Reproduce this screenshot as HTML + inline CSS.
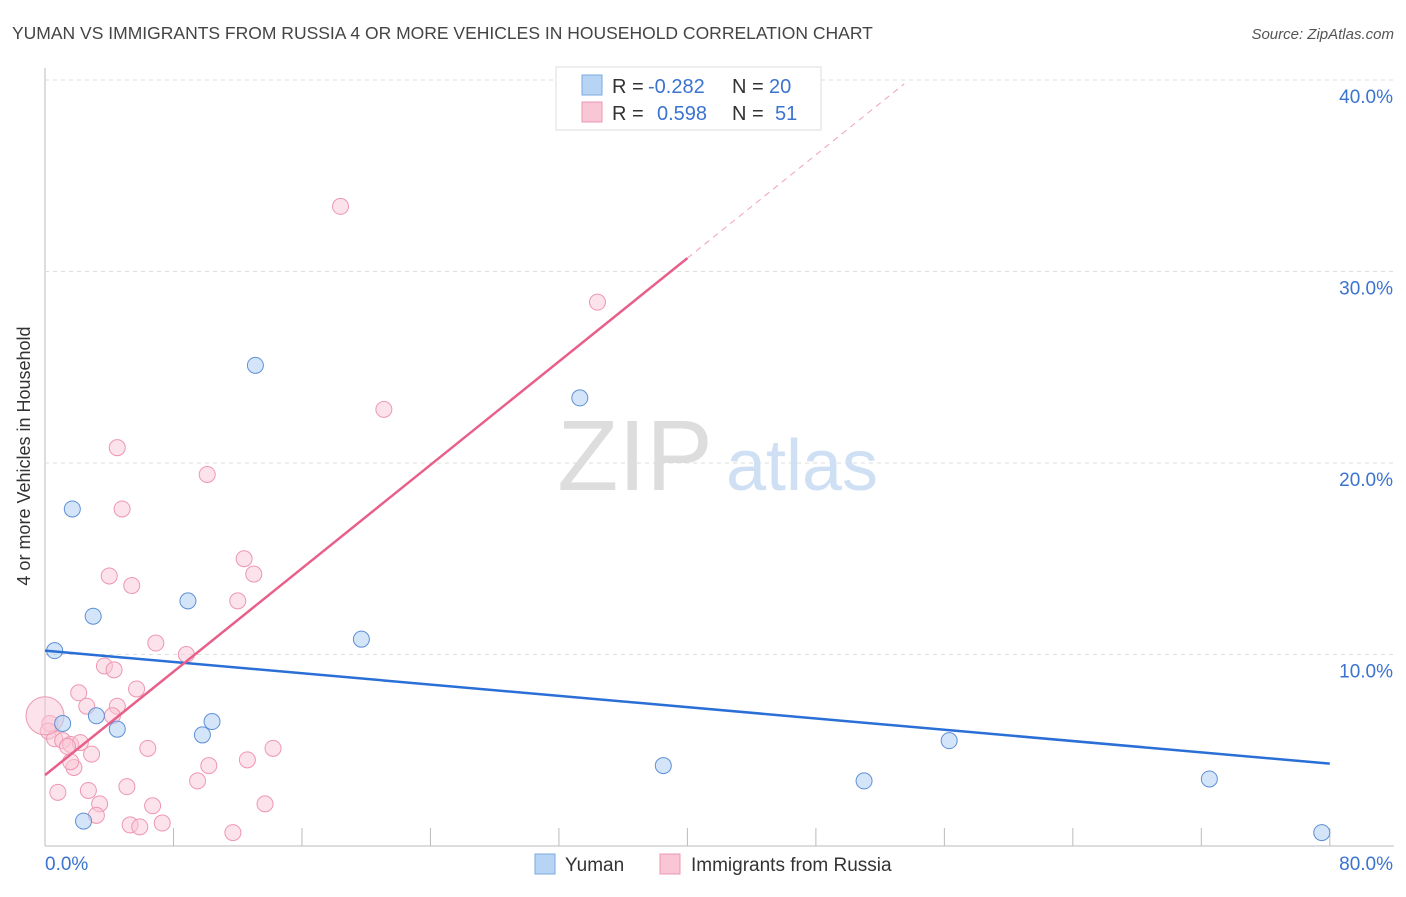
<!DOCTYPE html>
<html><head><meta charset="utf-8"><style>
body{margin:0;background:#fff;font-family:"Liberation Sans",sans-serif;}
svg text{font-family:"Liberation Sans",sans-serif;}
</style></head><body>
<svg id="chart" width="1406" height="892" viewBox="0 0 1406 892" xmlns="http://www.w3.org/2000/svg">
<text x="12" y="39" font-size="17.5" fill="#444">YUMAN VS IMMIGRANTS FROM RUSSIA 4 OR MORE VEHICLES IN HOUSEHOLD CORRELATION CHART</text>
<text x="1394" y="39" font-size="15" fill="#555" font-style="italic" text-anchor="end">Source: ZipAtlas.com</text>
<text x="30" y="456" font-size="18" fill="#333" text-anchor="middle" transform="rotate(-90 30 456)">4 or more Vehicles in Household</text>
<g id="grid"></g>
<g><text x="635" y="490" font-size="100" fill="#ddd" font-family="Liberation Serif" text-anchor="middle">ZIP</text><text x="802" y="490" font-size="72" fill="#cfe0f5" text-anchor="middle">atlas</text></g>
<g id="marks"></g>
<g>
<rect x="556" y="67" width="265" height="63" fill="#fff" stroke="#ddd"/>
<rect x="582" y="75" width="20" height="20" fill="#b8d4f5" stroke="#7aa8e0"/>
<rect x="582" y="102" width="20" height="20" fill="#f9c6d6" stroke="#ee97b2"/>
<text x="612" y="93" font-size="20" fill="#333">R =</text>
<text x="648" y="93" font-size="20" fill="#3b73d0">-0.282</text>
<text x="732" y="93" font-size="20" fill="#333">N =</text>
<text x="769" y="93" font-size="20" fill="#3b73d0">20</text>
<text x="612" y="120" font-size="20" fill="#333">R =</text>
<text x="657" y="120" font-size="20" fill="#3b73d0">0.598</text>
<text x="732" y="120" font-size="20" fill="#333">N =</text>
<text x="775" y="120" font-size="20" fill="#3b73d0">51</text>
</g>
<g>
<rect x="535" y="854" width="20" height="20" fill="#b8d4f5" stroke="#7aa8e0"/>
<text x="565" y="871" font-size="19" fill="#333">Yuman</text>
<rect x="660" y="854" width="20" height="20" fill="#f9c6d6" stroke="#ee97b2"/>
<text x="691" y="871" font-size="19" fill="#333">Immigrants from Russia</text>
</g>
</svg>
<script>
const yTicks=[10,20,30,40];
const xTickLabels=["0.0%","80.0%"];
const yumanX=[0.6,1.1,1.7,2.4,3.0,3.2,4.5,8.9,9.8,10.4,13.1,19.7,33.3,38.5,51.0,56.3,72.5,79.5];
const yumanY=[10.2,6.4,17.6,1.3,12.0,6.8,6.1,12.8,5.8,6.5,25.1,10.8,23.4,4.2,3.4,5.5,3.5,0.7];
const russiaX=[18.4,34.4,21.1,4.5,10.1,4.8,12.4,13.0,4.0,5.4,12.0,6.9,8.8,3.7,4.3,2.1,5.7,2.6,4.5,4.2,0.3,0.2,0.6,1.1,1.6,2.2,1.4,2.9,1.8,1.6,6.4,12.6,14.2,10.2,9.5,5.1,2.7,0.8,3.4,6.7,13.7,3.2,5.3,5.9,7.3,11.7,0];
const russiaY=[33.4,28.4,22.8,20.8,19.4,17.6,15.0,14.2,14.1,13.6,12.8,10.6,10.0,9.4,9.2,8.0,8.2,7.3,7.3,6.8,6.4,6.0,5.6,5.5,5.3,5.4,5.2,4.8,4.1,4.4,5.1,4.5,5.1,4.2,3.4,3.1,2.9,2.8,2.2,2.1,2.2,1.6,1.1,1.0,1.2,0.7,6.8];
const yumanLine=[[0,10.2],[80,4.3]];
const russiaLine=[[0,3.7],[40,30.7],[53.5,39.8]];
const X=v=>45+v*16.06, Y=v=>846-v*19.15;
const NS="http://www.w3.org/2000/svg";
const grid=document.getElementById('grid'), marks=document.getElementById('marks');
function mk(t,a,p){const e=document.createElementNS(NS,t);for(const k in a)e.setAttribute(k,a[k]);p.appendChild(e);return e;}
let ax=mk('line',{x1:45,y1:68,x2:45,y2:846,stroke:'#bbb'},grid);


let bx=mk('line',{x1:45,y1:846,x2:1394,y2:846,stroke:'#bbb'},grid);


for(let i=1;i<=10;i++){const x=X(i*8);const t=mk('line',{x1:x,y1:828,x2:x,y2:846,stroke:'#bbb'},grid);

}
yTicks.forEach(v=>{const g=mk('line',{x1:45,y1:Y(v),x2:1394,y2:Y(v),stroke:'#ddd','stroke-dasharray':'4 4'},grid);


const t=mk('text',{x:1393,y:Y(v)+23,'font-size':19,fill:'#3b73d0','text-anchor':'end'},grid);t.textContent=v.toFixed(1)+'%';

});
const l0=mk('text',{x:45,y:870,'font-size':19,fill:'#3b73d0'},grid);l0.textContent=xTickLabels[0];


const l1=mk('text',{x:1393,y:870,'font-size':19,fill:'#3b73d0','text-anchor':'end'},grid);l1.textContent=xTickLabels[1];


russiaX.forEach((x,i)=>{const c=mk('circle',{cx:X(x),cy:Y(russiaY[i]),r:i==russiaX.length-1?19:8,fill:'#f9c6d6','fill-opacity':0.5,stroke:'#ee97b2'},marks);

});
yumanX.forEach((x,i)=>{const c=mk('circle',{cx:X(x),cy:Y(yumanY[i]),r:8,fill:'#b8d4f5','fill-opacity':0.6,stroke:'#5e8fd6'},marks);

});
const yl=mk('line',{x1:X(yumanLine[0][0]),y1:Y(yumanLine[0][1]),x2:X(yumanLine[1][0]),y2:Y(yumanLine[1][1]),stroke:'#2a6fd6','stroke-width':2.5},marks);


const rl=mk('line',{x1:X(russiaLine[0][0]),y1:Y(russiaLine[0][1]),x2:X(russiaLine[1][0]),y2:Y(russiaLine[1][1]),stroke:'#e8608a','stroke-width':2.5},marks);


const rd=mk('line',{x1:X(russiaLine[1][0]),y1:Y(russiaLine[1][1]),x2:X(russiaLine[2][0]),y2:Y(russiaLine[2][1]),stroke:'#f0a0b8','stroke-width':1,'stroke-dasharray':'6 5'},marks);


</script>
</body></html>
